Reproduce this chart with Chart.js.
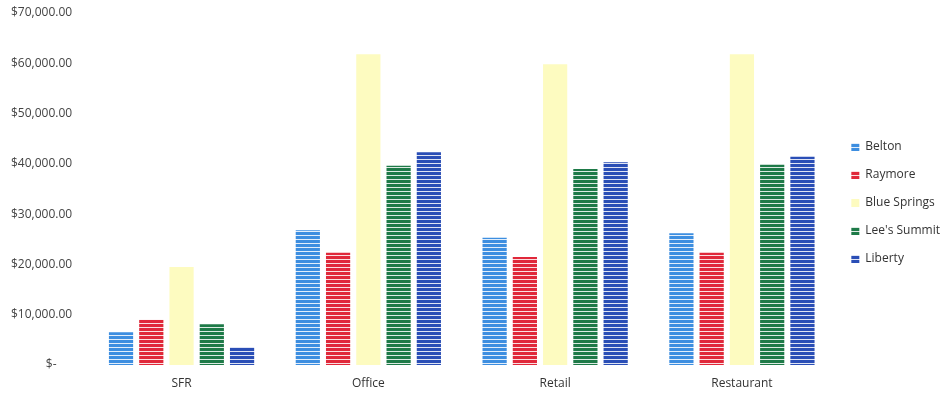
<!DOCTYPE html>
<html>
<head>
<meta charset="utf-8">
<script src="https://cdn.jsdelivr.net/npm/chart.js@4.4.0/dist/chart.umd.min.js"></script>
<style>
  html, body { margin: 0; padding: 0; background: #fff; }
  #wrap { width: 950px; height: 394px; position: relative; }
</style>
</head>
<body>
<div id="wrap"><canvas id="chart"></canvas></div>
<script>
// categories and series values
const categories = ["SFR", "Office", "Retail", "Restaurant"];
const belton = [6500, 26800, 25300, 26200];
const raymore = [9000, 22300, 21500, 22300];
const blueSprings = [19500, 61800, 59800, 61800];
const leesSummit = [8100, 39600, 39000, 39800];
const liberty = [3600, 42300, 40300, 41400];
const seriesNames = ["Belton", "Raymore", "Blue Springs", "Lee's Summit", "Liberty"];
const seriesColors = ["#3d8ee0", "#e0283a", "#fdfbc0", "#1e7a48", "#2a4eb6"];

// horizontal stripes like the scanned bars
function stripes(color, gap) {
    const c = document.createElement("canvas");
    c.width = 4; c.height = 4;
    const g = c.getContext("2d");
    g.fillStyle = color;
    g.fillRect(0, 0, 4, 4);
    if (gap) {
        g.fillStyle = "rgba(255,255,255,0.85)";
        g.fillRect(0, 3, 4, 1);
    }
    return g.createPattern(c, "repeat");
}

const values = [belton, raymore, blueSprings, leesSummit, liberty];
const datasets = values.map((v, i) => ({
    label: seriesNames[i],
    data: v,
    backgroundColor: stripes(seriesColors[i], i !== 2),
    borderWidth: 0,
    barPercentage: 0.8,
    categoryPercentage: 0.81
}));

const ctx = document.getElementById("chart").getContext("2d");
new Chart(ctx, {
    type: "bar",
    data: { labels: categories, datasets: datasets },
    options: {
        responsive: true,
        maintainAspectRatio: false,
        animation: false,
        layout: { padding: { top: 12, left: 3, right: 0, bottom: 0 } },
        plugins: {
            tooltip: { enabled: false },
            legend: {
                position: "right",
                labels: {
                    boxWidth: 8,
                    boxHeight: 8,
                    padding: 16,
                    color: "#333",
                    font: { family: "'Open Sans', sans-serif", size: 12 }
                }
            }
        },
        scales: {
            x: {
                grid: { display: false, drawTicks: false },
                border: { display: false },
                afterFit: s => { s.height = 29; },
                ticks: { color: "#333", padding: 11, font: { family: "'Open Sans', sans-serif", size: 12 } }
            },
            y: {
                min: 0,
                max: 70000,
                grid: { display: false },
                border: { display: false },
                afterFit: s => { s.paddingTop = 13; s.paddingBottom = 0; },
                ticks: {
                    stepSize: 10000,
                    padding: 8,
                    color: "#444",
                    font: { family: "'Open Sans', sans-serif", size: 12 },
                    callback: v => v === 0 ? "$-     " :
                        "$" + v.toLocaleString("en-US", { minimumFractionDigits: 2 })
                }
            }
        }
    }
});
</script>
</body>
</html>
